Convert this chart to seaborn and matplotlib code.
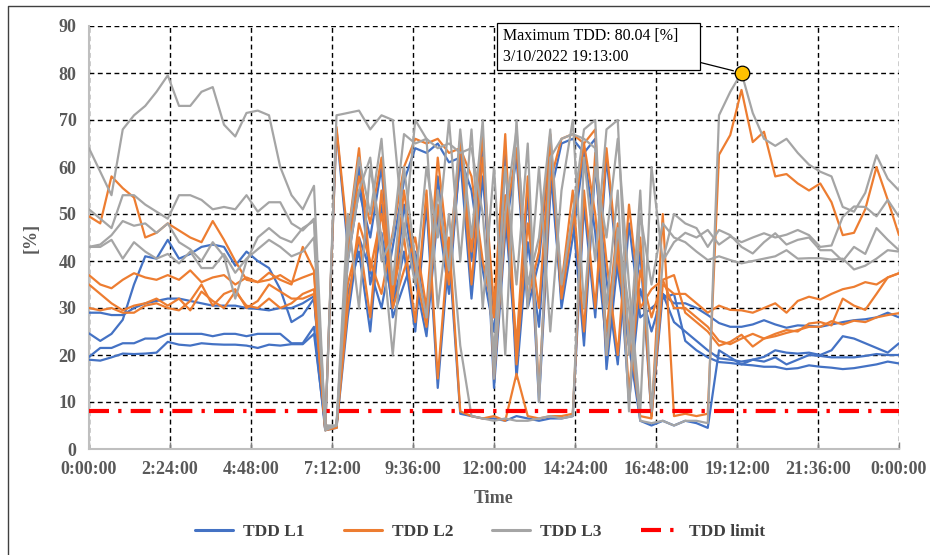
import numpy as np
import pandas as pd
import matplotlib
matplotlib.use("Agg")
import matplotlib.pyplot as plt
from matplotlib.lines import Line2D
import seaborn as sns

# ---------------- data ----------------
minutes = list(range(0, 1441, 20))          # 20-minute samples over one day
tick_minutes = [0, 144, 288, 432, 576, 720, 864, 1008, 1152, 1296, 1440]
tick_labels = ["0:00:00", "2:24:00", "4:48:00", "7:12:00", "9:36:00", "12:00:00",
               "14:24:00", "16:48:00", "19:12:00", "21:36:00", "0:00:00"]
y_ticks = [0, 10, 20, 30, 40, 50, 60, 70, 80, 90]
tdd_limit = 8.0
max_text = "Maximum TDD: 80.04 [%]    \n3/10/2022 19:13:00"
phases = ["TDD L1", "TDD L2", "TDD L3"]
days = ["day1", "day2", "day3", "day4"]

l1_day1 = [24.6, 23, 24.5, 27.5, 35, 41, 40.5, 44.5, 40.5, 41.5, 43, 43.5, 43, 39, 42, 40, 38.5, 34, 27, 28.5, 32,
           4.5, 68, 43, 60, 35, 46, 30, 42, 25, 52, 13, 42, 7.5,
           7, 6.5, 6.5, 6, 7, 6.5, 6, 6.5, 6.5, 7,
           52, 28, 62, 38, 22, 42, 7, 33, 31,
           31, 30, 28.5, 26.8, 26, 26, 26.5, 27.4, 26.5, 25.8, 26.3, 26.2, 26, 26.5, 27, 27.4, 27.6, 28, 29, 28]
l2_day1 = [49.5, 48, 58, 55.5, 53.5, 45, 46, 48, 46.5, 45, 44, 48.5, 44.5, 40, 36, 35.5, 37.5, 36, 35, 43, 38,
           4.5, 68.5, 45, 64, 38, 50, 33, 45, 27, 55, 15, 45, 8,
           7, 6.5, 7, 6, 16, 7, 6.5, 7, 7, 7.5,
           55, 30, 64, 40, 25, 45, 7, 35, 33,
           33, 31, 29, 30.5, 29.6, 29.5, 29, 30, 31, 29, 31.5, 32.4, 31.8, 33, 34, 34.5, 35.5, 35, 36.5, 37.4]
l3_day1 = [64, 59, 54, 68, 71, 73, 76, 79.5, 73, 73, 76, 77, 69, 66.5, 71.5, 72, 71, 60, 54, 51, 56,
           4, 71, 71.5, 72, 68, 71, 70, 45, 70, 66, 30, 50, 22,
           7, 6.5, 6, 6.5, 6, 6, 6.5, 7, 6.5, 7,
           62, 40, 68, 70, 20, 55, 8, 40, 50,
           48, 47, 43, 46.6, 45.5, 43, 41.6, 44, 45.9, 43.5, 44.5, 45, 42.3, 42.3, 40, 43, 41.5, 47, 44.5, 42.3]

l1_day2 = [29, 29, 28.5, 28.5, 30, 31, 31.5, 32, 32, 31.5, 31, 30.5, 30.5, 30.5, 30, 29.8, 29.5, 30, 30, 31, 32.5,
           4, 4.5, 28, 45, 38, 30, 43, 57, 64, 63, 65, 61, 62,
           55, 38, 25, 50, 20, 55, 10, 54, 65, 66,
           63, 46, 22, 45, 10, 34, 25, 33, 27,
           25, 23, 21, 19.3, 19, 18.6, 19, 18.6, 19.5, 18, 19, 20, 19.8, 19.5, 19.5, 19.5, 19.8, 20.2, 20, 20]
l2_day2 = [37, 35, 34.2, 36, 37.4, 36.5, 36, 37, 36, 38, 35.5, 36.5, 37, 35, 36.5, 35.5, 36, 37, 35.5, 36.5, 37.4,
           4, 4.5, 30, 48, 40, 33, 46, 60, 66, 65, 66, 63, 64,
           58, 40, 28, 54, 22, 58, 12, 57, 66, 67,
           65, 50, 25, 48, 12, 38, 28, 36, 30,
           30, 28, 26, 23, 22.3, 23.5, 24.5, 23.5, 24, 24.7, 25.3, 26, 26, 27.2, 26.5, 27.3, 27, 28, 28.5, 28.9]
l3_day2 = [51, 49, 47, 54, 54, 52, 50.5, 49, 54, 54, 53, 51, 51.5, 51, 54, 50.5, 52.5, 52.5, 48, 46.5, 49,
           5, 5, 40, 55, 62, 40, 45, 67, 65, 66, 64, 65, 63,
           64, 50, 20, 60, 35, 65, 10, 62, 66, 67,
           66, 64, 30, 55, 8, 50, 35, 48, 45,
           44, 42, 40.2, 41, 40.2, 39.5, 40, 40.5, 41, 42.3, 40.5, 40.6, 40.6, 40.3, 40.5, 38.2, 39, 40.5, 42.3, 42]

l1_day3 = [19.6, 21.5, 21.5, 22.5, 22.5, 23.5, 23.5, 24.5, 24.5, 24.5, 24.5, 24, 24.5, 24.5, 24, 24.5, 24.5, 24.5, 22.5, 22.5, 26,
           4, 5, 33, 42, 25, 52, 28, 35, 42, 28, 58, 36, 62,
           32, 58, 28, 63, 15, 44, 26, 60, 32, 50,
           22, 60, 36, 18, 48, 28, 30, 32, 33,
           23, 21, 19.5, 18.5, 18.3, 18, 17.8, 17.5, 17.5, 17, 17.2, 17.8, 17.5, 17.3, 17, 17.2, 17.6, 18, 18.6, 18.2]
l2_day3 = [35, 33, 31, 29.5, 30.5, 31, 32, 30.5, 32, 29.5, 33.5, 31.5, 30, 33.5, 30.5, 30, 32, 30, 31, 33, 34,
           4, 5, 35, 45, 28, 55, 30, 38, 45, 30, 62, 40, 66,
           35, 62, 30, 67, 18, 48, 30, 64, 35, 55,
           25, 63, 40, 20, 52, 30, 34, 36, 37,
           29, 27, 25, 22, 22.8, 24.3, 21.8, 23.5, 24.5, 25.3, 25, 26.7, 27, 26.3, 32, 30.5, 29.6, 33, 36.5, 37.4]
l3_day3 = [43, 43.5, 45.5, 48.5, 47.5, 48, 46, 48, 44, 42.5, 40, 44, 41, 32, 40, 45, 47, 45, 44, 47, 48.5,
           4, 5, 50, 30, 60, 45, 20, 48, 35, 60, 45, 70, 40,
           68, 30, 60, 20, 70, 30, 60, 25, 55, 70,
           30, 60, 45, 66, 35, 8, 60, 40, 44,
           46, 45, 46.6, 43.5, 45.2, 44, 45, 45.9, 45, 45.6, 46.6, 45.5, 43, 43.3, 49.4, 51.6, 51.5, 49.5, 53, 49.4]

l1_day4 = [19, 18.8, 19.5, 20.3, 20.2, 20.3, 20.5, 22.8, 22.2, 22, 22.5, 22.3, 22.2, 22.2, 22, 21.5, 22.2, 22, 22.3, 22.3, 24.5,
           5, 4.5, 40, 55, 45, 60, 30, 52, 36, 24, 50, 33, 63,
           40, 64, 13, 46, 62, 30, 40, 65, 30, 45,
           63, 66, 17, 40, 22, 6, 5, 6, 5,
           6, 5.5, 4.5, 21, 19.5, 18, 19, 19.6, 21, 20.5, 20.3, 20.5, 20, 21, 24, 23.5, 22.5, 21.5, 20.5, 22.5]
l2_day4 = [30, 29.5, 30, 29, 29, 30.5, 31, 30, 29.5, 31.5, 35, 30.5, 33, 34, 30, 31.5, 35, 33.5, 32, 32, 33,
           5, 4.5, 42, 58, 48, 62, 32, 55, 38, 26, 52, 35, 66,
           42, 67, 15, 48, 64, 32, 42, 67, 32, 48,
           65, 68, 20, 44, 25, 7, 6.5, 50, 7,
           7.5, 7, 7.5, 62.6, 66.8, 76.4, 65.3, 67.5, 58, 58.5, 56.5, 55, 56.5, 52.5, 45.5, 46, 51, 60, 53, 45.5]
l3_day4 = [43, 43, 44.5, 40.5, 44, 42, 40.5, 41.5, 39.5, 42, 38.5, 38.5, 41.5, 37.5, 40.5, 42.5, 44.5, 43, 41, 42, 45,
           4.5, 5, 45, 62, 50, 66, 35, 60, 40, 28, 55, 38, 68,
           45, 70, 15, 50, 68, 35, 45, 68, 35, 50,
           68, 70, 20, 47, 30, 6, 5.5, 6, 5,
           6, 6, 5.5, 71, 76, 80.04, 71.5, 66, 64.5, 66, 63, 60.5, 59, 58, 51.5, 50.5, 54.5, 62.5, 57.5, 55]

series = {
    ("TDD L1", "day1"): l1_day1, ("TDD L2", "day1"): l2_day1, ("TDD L3", "day1"): l3_day1,
    ("TDD L1", "day2"): l1_day2, ("TDD L2", "day2"): l2_day2, ("TDD L3", "day2"): l3_day2,
    ("TDD L1", "day3"): l1_day3, ("TDD L2", "day3"): l2_day3, ("TDD L3", "day3"): l3_day3,
    ("TDD L1", "day4"): l1_day4, ("TDD L2", "day4"): l2_day4, ("TDD L3", "day4"): l3_day4,
}

rows = []
for (ph, d), vals in series.items():
    n = min(len(vals), len(minutes))
    for k in range(n):
        rows.append({"minute": minutes[k], "tdd": vals[k], "phase": ph, "day": d})
df = pd.DataFrame(rows)

# ---------------- style ----------------
sns.set_theme(style="white")
plt.rcParams["font.family"] = ["Liberation Serif", "DejaVu Serif"]

colors = {"TDD L1": "#4472C4", "TDD L2": "#ED7D31", "TDD L3": "#A5A5A5"}
label_grey = "#595959"

fig = plt.figure(figsize=(9.3, 5.55), dpi=100)
fig.patch.set_facecolor("white")
ax = fig.add_axes([89 / 930, 1 - 449 / 555, 810 / 930, 423 / 555])
ax.set_facecolor("white")

sns.lineplot(data=df, x="minute", y="tdd", hue="phase", units="day", estimator=None,
             hue_order=phases, palette=colors, linewidth=1.6, legend=False, sort=False,
             ax=ax, zorder=3)

ax.axhline(tdd_limit, color="#FF0000", lw=3.0, dashes=(4.8, 2.2, 0.8, 2.2), zorder=4)

ax.set_xlim(0, 1440)
ax.set_ylim(0, 90)
ax.set_xticks(tick_minutes)
ax.set_xticklabels(tick_labels)
ax.set_yticks(y_ticks)
ax.set_yticklabels([str(v) for v in y_ticks])

for lab in ax.get_xticklabels() + ax.get_yticklabels():
    lab.set_fontweight("bold")
    lab.set_color(label_grey)
    lab.set_fontsize(13)

ax.tick_params(axis="x", direction="in", length=5, width=1, color="#7f7f7f", pad=9, bottom=True)
ax.tick_params(axis="y", length=0, pad=9)

ax.grid(True, color="black", linestyle=(0, (3.5, 2.5)), linewidth=1.0)
ax.set_axisbelow(True)

for side in ["top", "right"]:
    ax.spines[side].set_visible(False)
for side in ["left", "bottom"]:
    ax.spines[side].set_color("#BFBFBF")
    ax.spines[side].set_linewidth(1.5)
    ax.spines[side].set_zorder(2.5)

ax.set_xlabel("Time", fontsize=13, fontweight="bold", color=label_grey, labelpad=8)
ax.set_ylabel("[%]", fontsize=13, fontweight="bold", color=label_grey, labelpad=14)

# maximum marker + callout
l3_all = df[df["phase"] == "TDD L3"]
imax = l3_all["tdd"].idxmax()
tmax, vmax = df.loc[imax, "minute"], df.loc[imax, "tdd"]
ax.plot([tmax], [vmax], marker="o", markersize=10.5, markerfacecolor="#FFC000",
        markeredgecolor="black", markeredgewidth=0.9, zorder=6, clip_on=False)
ax.annotate(max_text, xy=(tmax, vmax), xycoords="data",
            xytext=(503 / 930, 1 - 46.5 / 555), textcoords="figure fraction",
            ha="left", va="center", fontsize=11.5, color="black", linespacing=1.35,
            bbox=dict(boxstyle="square,pad=0.35", fc="white", ec="black", lw=0.9),
            arrowprops=dict(arrowstyle="-", color="black", lw=0.9, relpos=(1.0, 0.1),
                            shrinkA=0, shrinkB=6),
            annotation_clip=False, zorder=7)

# legend
handles = [Line2D([], [], color=colors[p], lw=2.2) for p in phases]
handles.append(Line2D([], [], color="#FF0000", lw=3.0, dashes=(4.8, 2.2, 0.8, 2.2)))
leg = fig.legend(handles, phases + ["TDD limit"], loc="center", ncol=4,
                 bbox_to_anchor=(480 / 930, 1 - 532 / 555), frameon=False,
                 handlelength=2.2, columnspacing=2.25, handletextpad=0.57,
                 prop={"weight": "bold", "size": 12.5})
for t in leg.get_texts():
    t.set_color("#404040")

# outer frame (partly cropped in the reference)
fig.add_artist(Line2D([8 / 930, 8 / 930, 1.0], [0.0, 1 - 6 / 555, 1 - 6 / 555],
                      transform=fig.transFigure, color="#404040", lw=1.0))

fig.savefig("out.png", dpi=100)
